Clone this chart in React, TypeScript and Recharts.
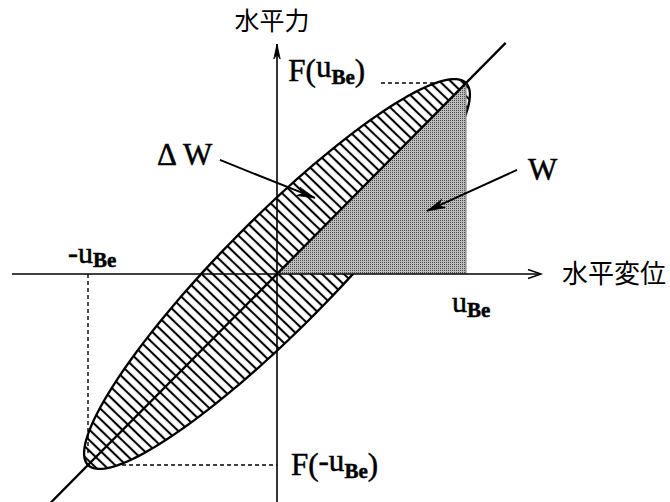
import React from 'react';
import { ScatterChart, Scatter, XAxis, YAxis } from 'recharts';

// Normalised hysteresis loop: displacement u in units of u_Be, force F in units of F(u_Be)
const U_BE = 1;
const F_BE = 1;
// Half-opening of the loop measured across the stiffness line
const LOOP_OPENING = 0.205;
const LOOP_STEPS = 144;

// Plot window (data units)
const X_DOMAIN: [number, number] = [-1.4656, 2.0794];
const Y_DOMAIN: [number, number] = [-1.1937, 1.4346];

// Loop outline: tips at (±u_Be, ±F(u_Be))
const loopPoints = Array.from({ length: LOOP_STEPS + 1 }, (_, i) => {
  const t = (2 * Math.PI * i) / LOOP_STEPS;
  return {
    u: U_BE * (Math.cos(t) - LOOP_OPENING * Math.sin(t)),
    F: F_BE * (Math.cos(t) + LOOP_OPENING * Math.sin(t)),
  };
});

// Stored energy W: triangle under the secant line up to u_Be
const workPoints = [
  { u: 0, F: 0 },
  { u: U_BE, F: F_BE },
  { u: U_BE, F: 0 },
];

// Secant stiffness line through the origin
const stiffnessLine = [
  { u: -1.2, F: -1.2 },
  { u: 1.21, F: 1.21 },
];

// Axes
const dispAxis = [
  { u: -1.402, F: 0 },
  { u: 1.397, F: 0 },
];
const forceAxis = [
  { u: 0, F: -1.2 },
  { u: 0, F: 1.204 },
];

// Dashed guides to the loop tips
const guideTop = [
  { u: 0.55, F: F_BE },
  { u: 0.84, F: F_BE },
];
const guideLeft = [
  { u: -U_BE, F: 0 },
  { u: -U_BE, F: -0.95 },
];
const guideBottom = [
  { u: -0.82, F: -F_BE },
  { u: 0, F: -F_BE },
];

// Pointer arrows for the ΔW and W annotations
const arrowDW = [
  { u: -0.302, F: 0.597 },
  { u: 0.201, F: 0.398 },
];
const arrowW = [
  { u: 1.27, F: 0.545 },
  { u: 0.794, F: 0.33 },
];

// Text anchors
const annotations = [
  { id: 'forceTitle', u: -0.026, F: 1.277 },
  { id: 'dispTitle', u: 1.508, F: -0.047 },
  { id: 'Fpos', u: 0.06, F: 1.01 },
  { id: 'Fneg', u: 0.074, F: -1.052 },
  { id: 'uneg', u: -1.106, F: 0.058 },
  { id: 'upos', u: 0.926, F: -0.199 },
  { id: 'dW', u: -0.635, F: 0.571 },
  { id: 'W', u: 1.328, F: 0.492 },
];

const SERIF = '"Liberation Serif", "Times New Roman", serif';
const CJK = '"Noto Sans CJK JP", "Noto Sans CJK SC", sans-serif';

type XY = { x: number; y: number };

const toPath = (pts: XY[], close: boolean) =>
  pts.map((p, i) => `${i ? 'L' : 'M'}${p.x.toFixed(2)},${p.y.toFixed(2)}`).join('') + (close ? 'Z' : '');

const NoSymbol = () => <g />;

const renderLoop = (props: any) => (
  <g>
    <defs>
      <pattern id="loopHatch" patternUnits="userSpaceOnUse" width={12} height={7.6} patternTransform="rotate(44)">
        <line x1={0} y1={3.8} x2={12} y2={3.8} stroke="#000" strokeWidth={2.1} />
      </pattern>
    </defs>
    <path d={toPath(props.points, true)} fill="url(#loopHatch)" stroke="#000" strokeWidth={2.3} strokeLinejoin="round" />
  </g>
);

const renderWork = (props: any) => {
  const pts: XY[] = props.points;
  return (
    <g>
      <defs>
        <pattern id="workStipple" patternUnits="userSpaceOnUse" width={2} height={2}>
          <rect width={2} height={2} fill="#bdbdbd" />
          <rect width={1} height={1} fill="#4a4a4a" />
        </pattern>
      </defs>
      <path d={toPath(pts, true)} fill="url(#workStipple)" stroke="none" />
      <line x1={pts[1].x} y1={pts[1].y} x2={pts[2].x} y2={pts[2].y} stroke="#777" strokeWidth={1} />
    </g>
  );
};

type Head = 'none' | 'open' | 'notched';

const makeLine = (width: number, head: Head = 'none', dash?: string, headLen = 12, headHalf = 4) => (props: any) => {
  const pts: XY[] = props.points;
  const a = pts[pts.length - 2];
  const b = pts[pts.length - 1];
  const len = Math.hypot(b.x - a.x, b.y - a.y) || 1;
  const dx = (b.x - a.x) / len;
  const dy = (b.y - a.y) / len;
  const nx = -dy;
  const ny = dx;
  const bx = b.x - dx * headLen;
  const by = b.y - dy * headLen;
  let headEl = null;
  if (head === 'open') {
    headEl = (
      <polyline
        points={`${bx + nx * headHalf},${by + ny * headHalf} ${b.x},${b.y} ${bx - nx * headHalf},${by - ny * headHalf}`}
        fill="none"
        stroke="#000"
        strokeWidth={1.4}
      />
    );
  } else if (head === 'notched') {
    const mx = b.x - dx * headLen * 0.7;
    const my = b.y - dy * headLen * 0.7;
    headEl = (
      <polygon
        points={`${b.x},${b.y} ${bx + nx * headHalf},${by + ny * headHalf} ${mx},${my} ${bx - nx * headHalf},${by - ny * headHalf}`}
        fill="#000"
        stroke="#000"
        strokeWidth={0.8}
      />
    );
  }
  return (
    <g>
      <path d={toPath(pts, false)} fill="none" stroke="#000" strokeWidth={width} strokeDasharray={dash} />
      {headEl}
    </g>
  );
};

// Serif labels are drawn with a thin outline so they carry the weight of printed type
const serifText = { fontFamily: SERIF, fill: '#000', stroke: '#000', strokeWidth: 0.5 };
const SUB = { fontSize: 21, fontWeight: 700 as const };

const renderAnnotation = (props: any) => {
  const { cx, cy, payload } = props;
  switch (payload.id) {
    case 'forceTitle':
      return (
        <text x={cx} y={cy} textAnchor="middle" fontFamily={CJK} fontSize={25} fill="#000">
          水平力
        </text>
      );
    case 'dispTitle':
      return (
        <text x={cx} y={cy} fontFamily={CJK} fontSize={26} fill="#000">
          水平変位
        </text>
      );
    case 'Fpos':
      return (
        <text x={cx} y={cy} fontSize={31} {...serifText}>
          F(<tspan dy={-4}>u</tspan>
          <tspan dy={7} {...SUB}>Be</tspan>
          <tspan dy={-3}>)</tspan>
        </text>
      );
    case 'Fneg':
      return (
        <text x={cx} y={cy} fontSize={31} {...serifText}>
          F(<tspan dy={-4}>-u</tspan>
          <tspan dy={7} {...SUB}>Be</tspan>
          <tspan dy={-3}>)</tspan>
        </text>
      );
    case 'uneg':
      return (
        <text x={cx} y={cy} fontSize={30} {...serifText}>
          -u<tspan dy={4} {...SUB}>Be</tspan>
        </text>
      );
    case 'upos':
      return (
        <text x={cx} y={cy} fontSize={30} {...serifText}>
          u<tspan dy={5} {...SUB}>Be</tspan>
        </text>
      );
    case 'dW':
      return (
        <text x={cx} y={cy} fontSize={31} {...serifText}>
          Δ W
        </text>
      );
    case 'W':
      return (
        <text x={cx} y={cy} fontSize={31} {...serifText}>
          W
        </text>
      );
    default:
      return <g />;
  }
};

export default function App() {
  return (
    <div style={{ position: 'absolute', left: 0, top: 0, width: 670, height: 502, background: '#fff' }}>
      <ScatterChart width={670} height={502} margin={{ top: 0, right: 0, bottom: 0, left: 0 }}>
        <XAxis type="number" dataKey="u" domain={X_DOMAIN} allowDataOverflow hide />
        <YAxis type="number" dataKey="F" domain={Y_DOMAIN} allowDataOverflow hide />

        <Scatter data={loopPoints} line={renderLoop} lineType="joint" shape={NoSymbol} isAnimationActive={false} />
        <Scatter data={workPoints} line={renderWork} lineType="joint" shape={NoSymbol} isAnimationActive={false} />
        <Scatter data={stiffnessLine} line={makeLine(2.3)} lineType="joint" shape={NoSymbol} isAnimationActive={false} />
        <Scatter data={dispAxis} line={makeLine(1.6, 'open', undefined, 13, 4.5)} lineType="joint" shape={NoSymbol} isAnimationActive={false} />
        <Scatter data={forceAxis} line={makeLine(1.6, 'notched', undefined, 15, 3.2)} lineType="joint" shape={NoSymbol} isAnimationActive={false} />
        <Scatter data={guideTop} line={makeLine(1.4, 'none', '4 3')} lineType="joint" shape={NoSymbol} isAnimationActive={false} />
        <Scatter data={guideLeft} line={makeLine(1.4, 'none', '4 3')} lineType="joint" shape={NoSymbol} isAnimationActive={false} />
        <Scatter data={guideBottom} line={makeLine(1.4, 'none', '4 3')} lineType="joint" shape={NoSymbol} isAnimationActive={false} />
        <Scatter data={arrowDW} line={makeLine(1.9, 'notched', undefined, 18, 4.5)} lineType="joint" shape={NoSymbol} isAnimationActive={false} />
        <Scatter data={arrowW} line={makeLine(1.9, 'notched', undefined, 18, 4.5)} lineType="joint" shape={NoSymbol} isAnimationActive={false} />
        <Scatter data={annotations} shape={renderAnnotation} isAnimationActive={false} />
      </ScatterChart>
    </div>
  );
}
